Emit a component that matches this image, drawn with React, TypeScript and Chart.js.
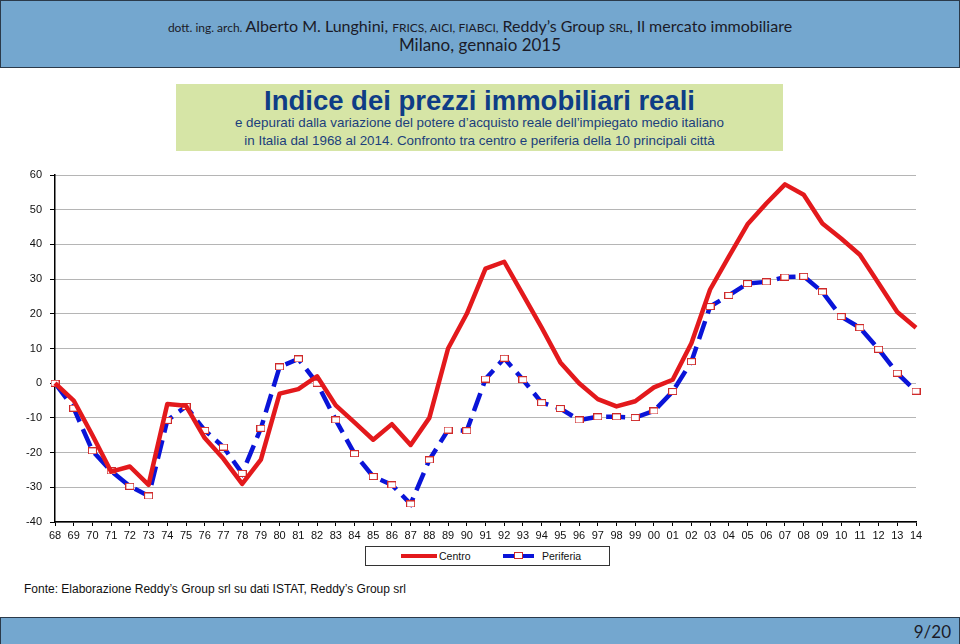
import React, { useEffect, useRef } from 'react';
import { Chart, registerables } from 'chart.js';

Chart.register(...registerables);

const years = [
  '68', '69', '70', '71', '72', '73', '74', '75', '76', '77', '78', '79',
  '80', '81', '82', '83', '84', '85', '86', '87', '88', '89', '90', '91',
  '92', '93', '94', '95', '96', '97', '98', '99', '00', '01', '02', '03',
  '04', '05', '06', '07', '08', '09', '10', '11', '12', '13', '14',
];

const centro = [
  0, -5, -15, -25.5, -24, -29.3, -6, -6.5, -15.8, -21.8, -29, -22,
  -3, -1.7, 2, -6.4, -11.3, -16.3, -11.8, -17.8, -10, 10, 20, 33,
  35, 25.5, 16, 6, 0, -4.6, -6.7, -5.2, -1.2, 1, 11.5, 27,
  36.5, 45.8, 51.8, 57.3, 54.3, 46, 41.7, 37, 28.8, 20.5, 16,
];

const periferia = [
  0, -7.2, -19.5, -25.3, -29.7, -32.5, -10.7, -6.7, -13.6, -18.4, -26, -13,
  4.7, 7, 0, -10.6, -20.3, -26.9, -29.3, -34.8, -22.1, -13.5, -13.7, 1.2,
  7.2, 1, -5.6, -7.3, -10.6, -9.7, -9.7, -9.9, -8, -2.4, 6.2, 22.1,
  25.3, 28.7, 29.2, 30.6, 30.8, 26.3, 19.2, 16, 9.8, 2.9, -2.3,
];

const yMin = -40;
const yMax = 60;
const yStep = 10;

const seriesNames = ['Centro', 'Periferia'];

const RED = '#e3191c';
const BLUE = '#0a14d8';
const MARKER_RED = '#cf2a2a';
const BAND = '#74a7cf';

function makeMarker(): HTMLCanvasElement {
  const c = document.createElement('canvas');
  c.width = 9;
  c.height = 7;
  const g = c.getContext('2d')!;
  g.fillStyle = '#ffffff';
  g.fillRect(0, 0, 9, 7);
  g.strokeStyle = MARKER_RED;
  g.lineWidth = 1;
  g.strokeRect(0.5, 0.5, 8, 6);
  return c;
}

const tickFont = { family: "'Liberation Sans', Arial, sans-serif", size: 11 };

function LineChart() {
  const ref = useRef<HTMLCanvasElement | null>(null);
  useEffect(() => {
    if (!ref.current) return;
    const marker = makeMarker();
    const chart = new Chart(ref.current, {
      type: 'line',
      data: {
        labels: years,
        datasets: [
          {
            label: seriesNames[0],
            data: centro,
            borderColor: RED,
            backgroundColor: RED,
            borderWidth: 4.5,
            pointRadius: 0,
            tension: 0,
            fill: false,
            clip: false,
            borderJoinStyle: 'round',
          },
          {
            label: seriesNames[1],
            data: periferia,
            borderColor: BLUE,
            backgroundColor: '#fff',
            borderWidth: 4.5,
            borderDash: [19, 8],
            pointStyle: marker,
            pointRadius: 4,
            tension: 0,
            fill: false,
            clip: false,
          },
        ],
      },
      options: {
        animation: false,
        responsive: false,
        devicePixelRatio: 1,
        events: [],
        layout: { padding: { left: 0, right: 44, top: 15, bottom: 0 } },
        plugins: {
          legend: { display: false },
          title: { display: false },
          tooltip: { enabled: false },
        },
        scales: {
          x: {
            type: 'category',
            offset: false,
            grid: {
              drawOnChartArea: false,
              drawTicks: true,
              tickLength: 4,
              tickColor: '#000',
              tickWidth: 1,
            },
            border: { display: true, color: '#000', width: 1.5 },
            ticks: {
              autoSkip: false,
              maxRotation: 0,
              minRotation: 0,
              padding: 3,
              color: '#111',
              font: tickFont,
            },
            afterFit: (s: any) => {
              s.height = 38;
            },
          },
          y: {
            min: yMin,
            max: yMax,
            ticks: {
              stepSize: yStep,
              padding: 8,
              color: '#111',
              font: tickFont,
            },
            grid: {
              color: '#6a6a6a',
              lineWidth: 1,
              drawTicks: true,
              tickLength: 5,
              tickColor: '#000',
            },
            border: { display: true, color: '#000', width: 1.5, dash: [1, 1] },
            afterFit: (s: any) => {
              s.width = 55;
            },
          },
        },
      },
    } as any);
    return () => chart.destroy();
  }, []);
  return (
    <canvas
      ref={ref}
      width={960}
      height={400}
      style={{ position: 'absolute', left: 0, top: 160, width: 960, height: 400 }}
    />
  );
}

export default function App() {
  const small: React.CSSProperties = { fontSize: 12 };
  return (
    <div
      style={{
        position: 'absolute',
        left: 0,
        top: 0,
        width: 960,
        height: 644,
        overflow: 'hidden',
        background: '#ffffff',
      }}
    >
      {/* header band */}
      <div
        style={{
          position: 'absolute',
          left: 0,
          top: 0,
          width: 958,
          height: 66,
          background: BAND,
          border: '1px solid #2b3a4a',
          fontFamily: "Lato, 'Open Sans', sans-serif",
          color: '#1b1b28',
          textAlign: 'center',
        }}
      >
        <div style={{ position: 'absolute', left: 0, right: 0, top: 14, fontSize: 16, lineHeight: '22px', whiteSpace: 'nowrap' }}>
          <span style={small}>dott. ing. arch. </span>Alberto M. Lunghini,{' '}
          <span style={small}>FRICS, AICI, FIABCI,</span> Reddy’s Group{' '}
          <span style={small}>SRL</span>, Il mercato immobiliare
        </div>
        <div style={{ position: 'absolute', left: 0, right: 0, top: 33, fontSize: 17, lineHeight: '22px' }}>
          Milano, gennaio 2015
        </div>
      </div>

      {/* title box */}
      <div
        style={{
          position: 'absolute',
          left: 176,
          top: 84,
          width: 607,
          height: 67,
          background: '#d6e5a6',
          color: '#0f3d86',
          textAlign: 'center',
          fontFamily: "'Liberation Sans', Arial, sans-serif",
        }}
      >
        <div style={{ position: 'absolute', left: 0, right: 0, top: 1, fontSize: 27.5, fontWeight: 'bold', lineHeight: '32px', whiteSpace: 'nowrap' }}>
          Indice dei prezzi immobiliari reali
        </div>
        <div style={{ position: 'absolute', left: 0, right: 0, top: 30, fontSize: 13.4, lineHeight: '18px', whiteSpace: 'nowrap', color: '#1b3f7c' }}>
          e depurati dalla variazione del potere d’acquisto reale dell’impiegato medio italiano
        </div>
        <div style={{ position: 'absolute', left: 0, right: 0, top: 48, fontSize: 13.4, lineHeight: '18px', whiteSpace: 'nowrap', color: '#1b3f7c' }}>
          in Italia dal 1968 al 2014. Confronto tra centro e periferia della 10 principali città
        </div>
      </div>

      <LineChart />

      {/* legend */}
      <div
        style={{
          position: 'absolute',
          left: 365,
          top: 546,
          width: 243,
          height: 18,
          border: '1px solid #333',
          background: '#fff',
          fontFamily: "'Liberation Sans', Arial, sans-serif",
          fontSize: 10.5,
          color: '#111',
        }}
      >
        <div style={{ position: 'absolute', left: 35, top: 7, width: 36, height: 4, background: RED }} />
        <div style={{ position: 'absolute', left: 73, top: 1, lineHeight: '16px' }}>{seriesNames[0]}</div>
        <div style={{ position: 'absolute', left: 137, top: 7, width: 31, height: 4, background: BLUE }} />
        <div
          style={{
            position: 'absolute',
            left: 148,
            top: 5,
            width: 7,
            height: 5,
            background: '#fff',
            border: `1px solid ${MARKER_RED}`,
          }}
        />
        <div style={{ position: 'absolute', left: 176, top: 1, lineHeight: '16px' }}>{seriesNames[1]}</div>
      </div>

      {/* source */}
      <div
        style={{
          position: 'absolute',
          left: 24,
          top: 582,
          fontFamily: "'Liberation Sans', Arial, sans-serif",
          fontSize: 12,
          lineHeight: '15px',
          color: '#111',
          whiteSpace: 'nowrap',
        }}
      >
        Fonte: Elaborazione Reddy’s Group srl su dati ISTAT, Reddy’s Group srl
      </div>

      {/* bottom band */}
      <div
        style={{
          position: 'absolute',
          left: 0,
          top: 617,
          width: 958,
          height: 27,
          background: BAND,
          border: '1px solid #2b3a4a',
          borderBottom: 'none',
        }}
      >
        <div
          style={{
            position: 'absolute',
            right: 8,
            top: 2,
            fontFamily: "Lato, 'Open Sans', sans-serif",
            fontSize: 17,
            lineHeight: '24px',
            color: '#1b1b28',
          }}
        >
          9/20
        </div>
      </div>
    </div>
  );
}
